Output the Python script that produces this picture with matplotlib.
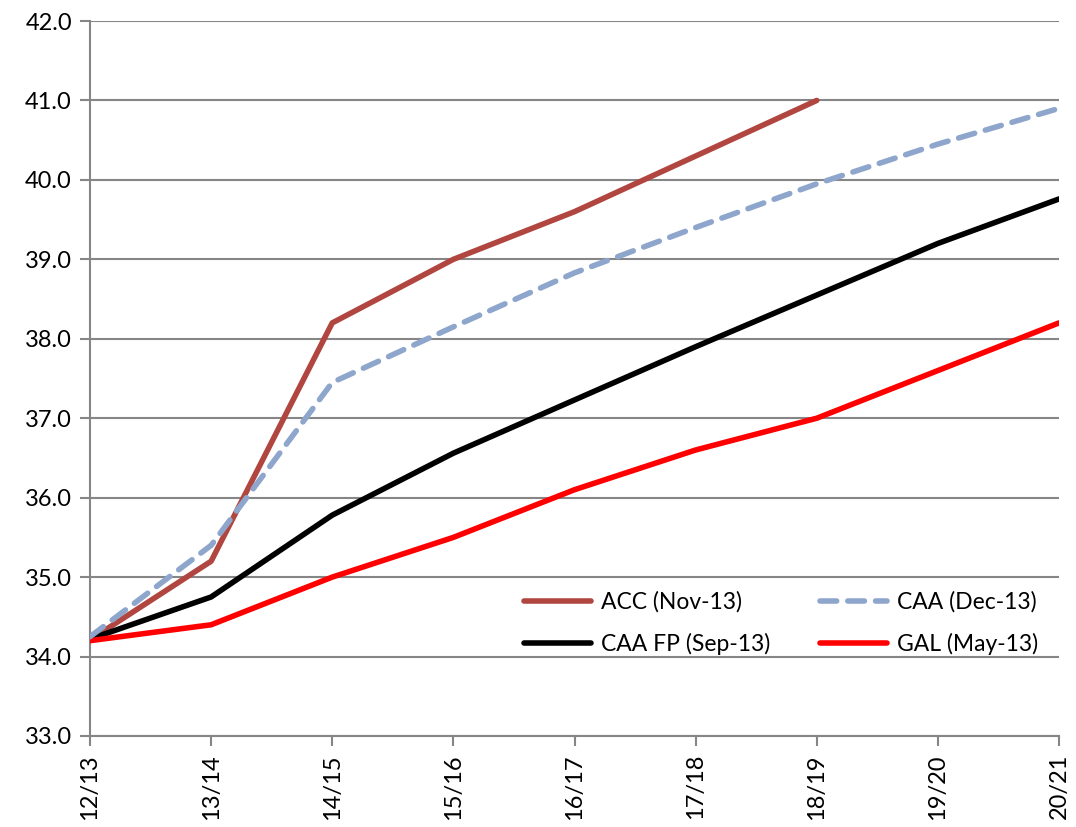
import matplotlib
matplotlib.use("Agg")
import matplotlib.pyplot as plt

plt.rcParams['font.family'] = ['Lato', 'DejaVu Sans']

years = ["12/13", "13/14", "14/15", "15/16", "16/17", "17/18", "18/19", "19/20", "20/21"]

acc_nov13 = [34.21, 35.2, 38.2, 39.0, 39.6, 40.3, 41.0]
caa_dec13 = [34.25, 35.4, 37.45, 38.15, 38.83, 39.4, 39.95, 40.45, 40.9]
caa_fp_sep13 = [34.22, 34.75, 35.78, 36.56, 37.23, 37.9, 38.55, 39.2, 39.76]
gal_may13 = [34.2, 34.4, 35.0, 35.5, 36.1, 36.6, 37.0, 37.6, 38.2]

grid_col = "#868686"

fig = plt.figure(figsize=(10.76, 8.27), dpi=100)
ax = fig.add_axes([90 / 1076, 1 - 736 / 827, (1059 - 90) / 1076, (736 - 21) / 827])

x = list(range(len(years)))
l_acc, = ax.plot(x[:len(acc_nov13)], acc_nov13, color="#b0463f", lw=4, label="ACC (Nov-13)",
                 solid_capstyle="round", zorder=3)
l_caa, = ax.plot(x, caa_dec13, color="#8ea6cc", lw=4, ls=(0, (3, 2)), label="CAA (Dec-13)",
                 dash_capstyle="round", zorder=4)
l_fp, = ax.plot(x, caa_fp_sep13, color="black", lw=4, label="CAA FP (Sep-13)",
                solid_capstyle="round", zorder=3)
l_gal, = ax.plot(x, gal_may13, color="#ff0000", lw=4, label="GAL (May-13)",
                 solid_capstyle="round", zorder=3)

ax.set_xlim(0, len(years) - 1)
ax.set_ylim(33, 42)
ax.set_yticks([33 + i for i in range(10)])
ax.set_yticklabels(["%.1f" % (33 + i) for i in range(10)])
ax.set_xticks(x)
ax.set_xticklabels(years, rotation=90)

ax.grid(axis="y", color=grid_col, lw=1.5)
ax.set_axisbelow(True)
for side in ["top", "right"]:
    ax.spines[side].set_visible(False)
for side in ["left", "bottom"]:
    ax.spines[side].set_color(grid_col)
    ax.spines[side].set_linewidth(1.5)
ax.tick_params(axis="both", colors=grid_col, length=7, width=1.5, labelsize=17,
               labelcolor="black")
ax.tick_params(axis="y", pad=6)
ax.tick_params(axis="x", pad=6)

# legend fills column by column, so order handles to read row by row
handles = [l_acc, l_fp, l_caa, l_gal]
leg = ax.legend(handles, [h.get_label() for h in handles], ncol=2, loc="lower right",
                bbox_to_anchor=(1.0, 0.085), frameon=False,
                fontsize=16.5, handlelength=2.9, handletextpad=0.45, columnspacing=2.2,
                labelspacing=0.85)

fig.savefig("out.png", dpi=100)
